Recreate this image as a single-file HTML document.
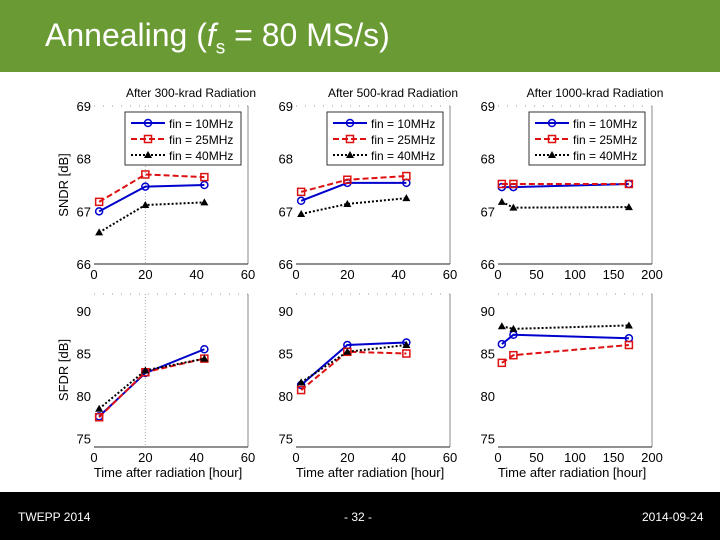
<!DOCTYPE html>
<html><head><meta charset="utf-8"><style>
body{margin:0;width:720px;height:540px;overflow:hidden;background:#fff;font-family:"Liberation Sans",sans-serif}
#hdr{position:absolute;left:0;top:0;width:720px;height:72px;background:#6a9a33}
#ttl{position:absolute;left:45px;top:17px;color:#fff;font-size:32px;line-height:37px}
#ftr{position:absolute;left:0;top:492px;width:720px;height:48px;background:#000;color:#fff;font-size:12px}
svg{position:absolute;left:0;top:0}
</style></head><body>
<div id="hdr"><div id="ttl">Annealing (<i>f</i><sub style="font-size:19px;line-height:0">s</sub> = 80 MS/s)</div></div>
<svg id="chart" width="720" height="540"></svg>
<div id="ftr">
<span style="position:absolute;left:18px;top:18px">TWEPP 2014</span>
<span style="position:absolute;left:344px;top:18px">- 32 -</span>
<span style="position:absolute;left:642px;top:18px">2014-09-24</span>
</div>
<script>
const titles=["After 300-krad Radiation","After 500-krad Radiation","After 1000-krad Radiation"];
const legendLabels=["fin = 10MHz","fin = 25MHz","fin = 40MHz"];
const xTicksShort=[0,20,40,60];
const xTicksLong=[0,50,100,150,200];
const sndrTicks=[66,67,68,69];
const sfdrTicks=[75,80,85,90];
// times (hours)
const tShort=[2,20,43];
const tLong=[5,20,170];
// SNDR [dB]
const sndr300_10=[67.0,67.47,67.5], sndr300_25=[67.18,67.7,67.65], sndr300_40=[66.6,67.12,67.17];
const sndr500_10=[67.2,67.54,67.54], sndr500_25=[67.37,67.6,67.67], sndr500_40=[66.95,67.14,67.25];
const sndr1000_10=[67.46,67.46,67.52], sndr1000_25=[67.52,67.52,67.52], sndr1000_40=[67.18,67.07,67.08];
// SFDR [dB]
const sfdr300_10=[77.6,82.7,85.5], sfdr300_25=[77.5,82.8,84.4], sfdr300_40=[78.5,83.0,84.4];
const sfdr500_10=[81.3,86.0,86.3], sfdr500_25=[80.7,85.2,85.0], sfdr500_40=[81.6,85.2,86.0];
const sfdr1000_10=[86.1,87.2,86.8], sfdr1000_25=[83.9,84.8,86.0], sfdr1000_40=[88.2,87.9,88.3];

const svg=document.getElementById('chart');const NS='http://www.w3.org/2000/svg';
function mk(t,a,p){const e=document.createElementNS(NS,t);for(const k in a)e.setAttribute(k,a[k]);(p||svg).appendChild(e);return e;}
const cols=[94,296,498], W=154;
const styles=[{c:'#0000cc',d:'',m:'o'},{c:'#dd1111',d:'6,3',m:'s'},{c:'#000',d:'2,2',m:'t'}];
function marker(x,y,m,c,g){let e;
 if(m==='o')e=mk('circle',{cx:x,cy:y,r:3.5,fill:'none',stroke:c,'stroke-width':1.5},g);
 else if(m==='s')e=mk('rect',{x:x-3.5,y:y-3.5,width:7,height:7,fill:'none',stroke:c,'stroke-width':1.5},g);
 else e=mk('polygon',{points:`${x},${y-4} ${x-4},${y+3} ${x+4},${y+3}`,fill:c},g);
 
 }
function panel(ci,row,series,xs,xmax,xt){
 const x0=cols[ci];
 const top=row?294:106, bot=row?447:264, ymin=row?74:66, ymax=row?92:69;
 const g=mk('g',{});
 
 
 const sx=v=>x0+v/xmax*W, sy=v=>bot-(v-ymin)/(ymax-ymin)*(bot-top);
 mk('line',{x1:x0,y1:top,x2:x0+W,y2:top,stroke:'#999','stroke-dasharray':'1,8'},g);
 mk('line',{x1:x0+W,y1:top,x2:x0+W,y2:bot,stroke:'#888'},g);
 mk('line',{x1:x0,y1:bot,x2:x0+W,y2:bot,stroke:'#222'},g);
 xt.forEach(v=>{const t=mk('text',{x:sx(v),y:bot+15,'text-anchor':'middle','font-size':13},g);t.textContent=v;
  
  });
 (row?sfdrTicks:sndrTicks).forEach(v=>{const t=mk('text',{x:x0-3,y:sy(v)+5,'text-anchor':'end','font-size':13},g);t.textContent=v;
  
  });
 if(ci===0)mk('line',{x1:sx(20),y1:top,x2:sx(20),y2:bot,stroke:'#aaa','stroke-dasharray':'1,2'},g);
 series.forEach((s,i)=>{const st=styles[i];
  const pl=mk('polyline',{points:s.map((v,k)=>sx(xs[k])+','+sy(v)).join(' '),fill:'none',stroke:st.c,'stroke-width':2,'stroke-dasharray':st.d},g);
  
  
  s.forEach((v,k)=>marker(sx(xs[k]),sy(v),st.m,st.c,g));});
 if(!row){
  const t=mk('text',{x:x0+W/2+20,y:97,'text-anchor':'middle','font-size':12},g);t.textContent=titles[ci];
  
  
  const lx=x0+31,ly=112;
  const lg=mk('g',{},g);
  
  
  mk('rect',{x:lx,y:ly,width:116,height:53,fill:'#fff',stroke:'#333'},lg);
  legendLabels.forEach((l,i)=>{const st=styles[i],yy=ly+11+i*16;
   mk('line',{x1:lx+6,y1:yy,x2:lx+40,y2:yy,stroke:st.c,'stroke-width':2,'stroke-dasharray':st.d},lg);
   marker(lx+23,yy,st.m,st.c,lg);
   const tt=mk('text',{x:lx+44,y:yy+5,'font-size':12},lg);tt.textContent=l;
   
   });
 } else {
  const t=mk('text',{x:x0+W/2-3,y:477,'text-anchor':'middle','font-size':13},g);t.textContent='Time after radiation [hour]';
  
  
 }
}
panel(0,0,[sndr300_10,sndr300_25,sndr300_40],tShort,60,xTicksShort);
panel(1,0,[sndr500_10,sndr500_25,sndr500_40],tShort,60,xTicksShort);
panel(2,0,[sndr1000_10,sndr1000_25,sndr1000_40],tLong,200,xTicksLong);
panel(0,1,[sfdr300_10,sfdr300_25,sfdr300_40],tShort,60,xTicksShort);
panel(1,1,[sfdr500_10,sfdr500_25,sfdr500_40],tShort,60,xTicksShort);
panel(2,1,[sfdr1000_10,sfdr1000_25,sfdr1000_40],tLong,200,xTicksLong);
[['SNDR [dB]',185],['SFDR [dB]',370]].forEach(([s,y])=>{const t=mk('text',{x:68,y:y,'font-size':13,'text-anchor':'middle',transform:`rotate(-90 68 ${y})`});t.textContent=s;
 
 });
</script>
</body></html>
